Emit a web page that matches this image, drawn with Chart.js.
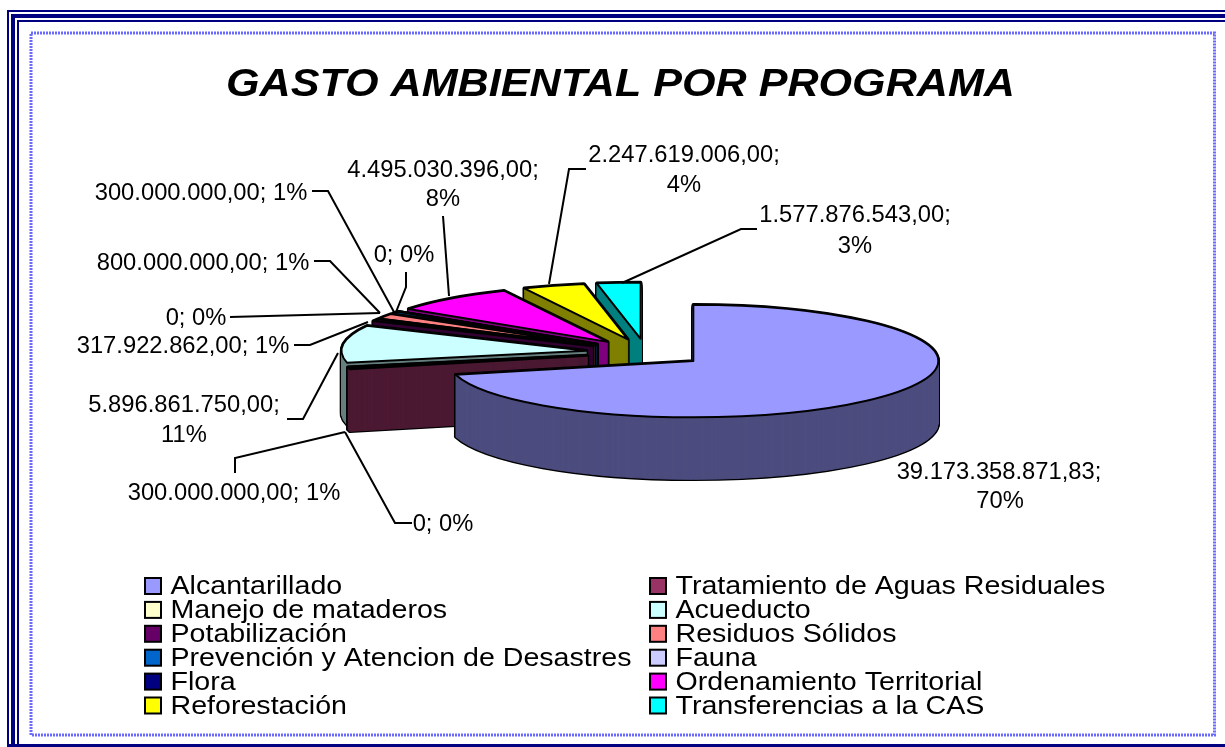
<!DOCTYPE html>
<html>
<head>
<meta charset="utf-8">
<title>Gasto ambiental por programa</title>
<script src="https://cdn.jsdelivr.net/npm/chart.js@4"></script>
<style>
  html, body { margin: 0; padding: 0; background: #fff; }
  canvas { display: block; }
</style>
</head>
<body>
<canvas id="myPieChart" width="1225" height="747"></canvas>
<script>
var titleText = "GASTO AMBIENTAL POR PROGRAMA";
var categories = ["Alcantarillado", "Tratamiento de Aguas Residuales", "Manejo de mataderos", "Acueducto",
    "Potabilización", "Residuos Sólidos", "Prevención y Atencion de Desastres", "Fauna",
    "Flora", "Ordenamiento Territorial", "Reforestación", "Transferencias a la CAS"];
var values = [39173358871.83, 300000000, 0, 5896861750, 317922862, 800000000, 300000000, 0, 0, 4495030396, 2247619006, 1577876543];
var percents = [70, 1, 0, 11, 1, 1, 1, 0, 0, 8, 4, 3];
var colors = ["#9999FF", "#993366", "#FFFFCC", "#CCFFFF", "#660066", "#FF8080", "#0066CC", "#CCCCFF", "#000080", "#FF00FF", "#FFFF00", "#00FFFF"];

// where each slice's label goes: text lines [centre x, centre y], then its leader line
var labelLayout = [
    { at: [[999, 471], [1000, 500]] },
    { at: [[234, 492]], leader: [[235, 473], [235, 458], [345, 432]] },
    { at: [[443, 523]], leader: [[412, 523], [395, 523], [345, 432]] },
    { at: [[184, 404], [184, 434]], leader: [[287, 419], [303, 419], [338, 353]] },
    { at: [[183, 345]], leader: [[294, 345], [310, 345], [368, 322]] },
    { at: [[203, 262]], leader: [[314, 261], [330, 261], [380, 313]] },
    { at: [[201, 192]], leader: [[312, 191], [328, 191], [394, 312]] },
    { at: [[196, 317]], leader: [[230, 317], [380, 313]] },
    { at: [[404, 254]], leader: [[406, 272], [406, 287], [396, 312]] },
    { at: [[443, 169], [443, 198]], leader: [[443, 216], [449, 296]] },
    { at: [[684, 154], [684, 184]], leader: [[586, 169], [569, 169], [549, 284]] },
    { at: [[855, 214], [855, 245]], leader: [[757, 229], [741, 229], [622, 283]] }
];

var squash = 0.23;   // tilt of the pie
var depth = 62;      // height of the side wall
var explode = 60;

function formatValue(v) {
    if (v === 0) return "0";
    return v.toLocaleString("de-DE", { minimumFractionDigits: 2, maximumFractionDigits: 2 });
}

function halfColor(hex) {
    var n = parseInt(hex.slice(1), 16);
    return "rgb(" + ((n >> 16) >> 1) + "," + (((n >> 8) & 255) >> 1) + "," + ((n & 255) >> 1) + ")";
}

function slicePath(ctx, arc, dy) {
    var p = arc.getProps(["x", "y", "startAngle", "endAngle", "outerRadius"], true);
    var mid = (p.startAngle + p.endAngle) / 2;
    var ox = Math.cos(mid) * explode, oy = Math.sin(mid) * explode;
    ctx.beginPath();
    ctx.save();
    ctx.translate(p.x, p.y + dy);
    ctx.scale(1, squash);
    ctx.moveTo(ox, oy);
    ctx.arc(ox, oy, p.outerRadius, p.startAngle, p.endAngle);
    ctx.closePath();
    ctx.restore();
}

// text stretched sideways like the original, y is the centre of the capitals
function stretchedText(ctx, text, x, y, size, sx, align) {
    ctx.save();
    ctx.translate(x, y + size * 0.36);
    ctx.scale(sx, 1);
    ctx.textAlign = align;
    ctx.textBaseline = "alphabetic";
    ctx.fillText(text, 0, 0);
    ctx.restore();
}

var framePlugin = {
    id: "frame",
    beforeDraw: function(chart) {
        var ctx = chart.ctx;
        ctx.save();
        ctx.fillStyle = "#000080";
        ctx.fillRect(7, 10, 1218, 2);
        ctx.fillRect(11, 14, 1214, 4);
        ctx.fillRect(17, 20, 1208, 2);
        ctx.fillRect(7, 10, 2, 737);
        ctx.fillRect(11, 14, 4, 733);
        ctx.fillRect(17, 20, 2, 727);
        ctx.fillRect(7, 744, 1218, 3);
        ctx.lineWidth = 3;
        ctx.strokeStyle = "#6A6AFF";
        ctx.setLineDash([2, 1]);
        ctx.strokeRect(31, 33, 1183.5, 702);
        ctx.restore();
    }
};

var pie3dPlugin = {
    id: "pie3d",
    beforeDatasetsDraw: function(chart) {
        var ctx = chart.ctx;
        var arcs = chart.getDatasetMeta(0).data;
        ctx.save();
        ctx.lineJoin = "round";
        // back to front: last slice first, Alcantarillado ends up on top
        for (var i = arcs.length - 1; i >= 0; i--) {
            var d;
            ctx.fillStyle = "#000";
            ctx.strokeStyle = "#000";
            ctx.lineWidth = 3.5;
            for (d = depth; d >= 0; d--) {
                slicePath(ctx, arcs[i], d);
                ctx.fill();
                ctx.stroke();
            }
            // the wall colour is stroked as well so the layers leave no stripes
            ctx.fillStyle = halfColor(colors[i]);
            ctx.strokeStyle = halfColor(colors[i]);
            ctx.lineWidth = 1;
            if (arcs[i].circumference > 0) {
                for (d = depth; d >= 0; d--) {
                    slicePath(ctx, arcs[i], d);
                    ctx.fill();
                    ctx.stroke();
                }
            }
            slicePath(ctx, arcs[i], 0);
            ctx.fillStyle = colors[i];
            ctx.fill();
            ctx.strokeStyle = "#000";
            ctx.lineWidth = 2;
            ctx.stroke();
        }
        ctx.restore();
        return false;
    },
    afterDraw: function(chart) {
        var ctx = chart.ctx;
        ctx.save();
        ctx.fillStyle = "#000";

        // title
        ctx.font = "italic bold 39px 'Liberation Sans'";
        stretchedText(ctx, titleText, 620.5, 82, 39, 789 / ctx.measureText(titleText).width, "center");

        // data labels and leader lines
        ctx.font = "23px 'Liberation Sans'";
        var labelScale = 191.5 / ctx.measureText("2.247.619.006,00;").width;
        ctx.strokeStyle = "#000";
        ctx.lineWidth = 2;
        labelLayout.forEach(function(item, i) {
            var first = formatValue(values[i]) + ";", second = percents[i] + "%";
            if (item.at.length === 1) {
                stretchedText(ctx, first + " " + second, item.at[0][0], item.at[0][1], 23, labelScale, "center");
            } else {
                stretchedText(ctx, first, item.at[0][0], item.at[0][1], 23, labelScale, "center");
                stretchedText(ctx, second, item.at[1][0], item.at[1][1], 23, labelScale, "center");
            }
            if (item.leader) {
                ctx.beginPath();
                item.leader.forEach(function(pt, k) {
                    if (k === 0) ctx.moveTo(pt[0], pt[1]);
                    else ctx.lineTo(pt[0], pt[1]);
                });
                ctx.stroke();
            }
        });

        // legend, two columns filled row by row
        ctx.font = "25px 'Liberation Sans'";
        var legendScale = 461 / ctx.measureText(categories[6]).width;
        categories.forEach(function(name, i) {
            var row = Math.floor(i / 2);
            var y = 586 + row * 23.9;
            var sx = i % 2 === 0 ? 145 : 650;
            var tx = i % 2 === 0 ? 170.5 : 675.5;
            ctx.fillStyle = colors[i];
            ctx.fillRect(sx, y - 8, 16, 16);
            ctx.lineWidth = 2;
            ctx.strokeRect(sx, y - 8, 16, 16);
            ctx.fillStyle = "#000";
            stretchedText(ctx, name, tx, y - 1, 25, legendScale, "left");
        });
        ctx.restore();
    }
};

var ctx = document.getElementById('myPieChart').getContext('2d');
var chart = new Chart(ctx, {
    type: 'pie',
    data: {
        labels: categories,
        datasets: [{
            data: values,
            backgroundColor: colors
        }]
    },
    options: {
        responsive: false,
        animation: false,
        radius: 245,
        layout: { padding: { left: 67, right: 0, top: 0, bottom: 42 } },
        plugins: {
            legend: { display: false },
            tooltip: { enabled: false }
        }
    },
    plugins: [framePlugin, pie3dPlugin]
});
</script>
</body>
</html>
